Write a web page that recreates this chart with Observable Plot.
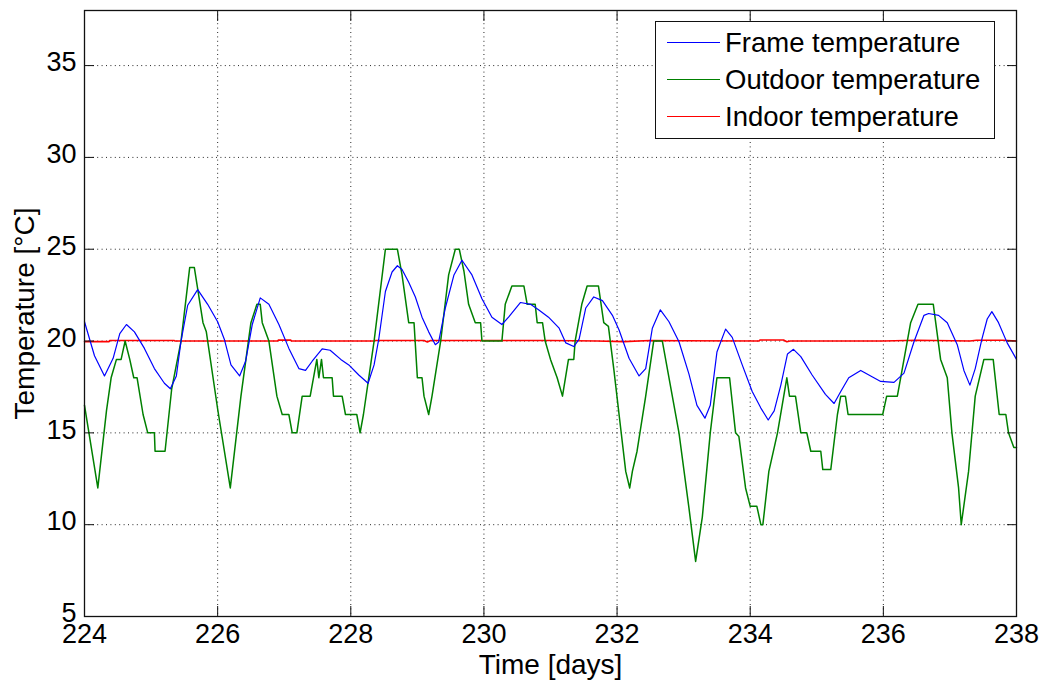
<!DOCTYPE html>
<html>
<head>
<meta charset="utf-8">
<script src="https://cdn.jsdelivr.net/npm/d3@7"></script>
<script src="https://cdn.jsdelivr.net/npm/@observablehq/plot@0.6"></script>
<style>
  body { margin: 0; background: white; }
  #wrap { position: relative; width: 1043px; height: 686px; font-family: "Liberation Sans", Arial, sans-serif; }
  #legend { position: absolute; left: 655px; top: 21px; width: 338px; height: 114px; border: 1px solid #111; background: white; padding-top: 2px; box-sizing: content-box; }
  .row { display: flex; align-items: center; height: 37px; }
  .swatch { width: 53px; margin-left: 11px; margin-right: 5px; height: 0; border-top: 1.5px solid; }
  .lab { font-size: 27.5px; color: #000; white-space: nowrap; }
</style>
</head>
<body>
<div id="wrap"></div>
<script>
// ---- data ----
const xTicks = [224, 226, 228, 230, 232, 234, 236, 238];
const yTicks = [5, 10, 15, 20, 25, 30, 35];
const seriesNames = ["Frame temperature", "Outdoor temperature", "Indoor temperature"];
const seriesColors = ["#0000ff", "#008000", "#ff0000"];

const frameDay = [224.00,224.15,224.30,224.43,224.53,224.63,224.75,224.90,225.05,225.20,225.29,225.38,225.45,225.55,225.70,225.85,226.00,226.10,226.20,226.33,226.42,226.52,226.64,226.77,226.92,227.07,227.22,227.32,227.42,227.57,227.69,227.85,227.97,228.12,228.26,228.35,228.42,228.52,228.62,228.70,228.77,228.87,228.97,229.07,229.17,229.27,229.32,229.42,229.55,229.67,229.82,229.97,230.12,230.27,230.37,230.55,230.70,230.82,230.97,231.13,231.23,231.35,231.43,231.53,231.65,231.78,231.93,232.03,232.18,232.33,232.43,232.53,232.65,232.78,232.93,233.08,233.20,233.32,233.40,233.50,233.63,233.73,233.88,234.03,234.16,234.27,234.36,234.46,234.56,234.65,234.76,234.93,235.13,235.26,235.36,235.48,235.66,235.81,235.96,236.16,236.31,236.46,236.61,236.68,236.83,236.96,237.11,237.21,237.30,237.38,237.48,237.56,237.63,237.73,237.86,238.00];
const frameTemp = [21.05,19.2,18.1,19.06,20.4,20.9,20.5,19.6,18.5,17.7,17.4,18.1,20.0,21.95,22.8,22.0,21.05,20.1,18.7,18.1,18.9,20.9,22.35,22.0,20.9,19.6,18.5,18.4,18.9,19.57,19.5,19.0,18.7,18.15,17.7,18.7,20.1,22.7,23.76,24.1,23.9,23.2,22.4,21.3,20.5,19.8,19.95,21.8,23.6,24.4,23.6,22.3,21.3,20.9,21.3,22.1,22.0,21.7,21.3,20.7,19.9,19.7,20.1,21.8,22.4,22.2,21.4,20.6,19.06,18.1,18.5,20.7,21.7,21.05,19.96,18.2,16.5,15.8,16.5,19.4,20.65,20.2,18.7,17.25,16.35,15.7,16.2,17.6,19.3,19.55,19.15,18.15,17.1,16.6,17.25,18.0,18.4,18.1,17.8,17.75,18.25,19.96,21.4,21.5,21.4,21.0,19.8,18.4,17.6,18.5,20.1,21.2,21.6,21.0,19.9,19.0];

const outdoorDay = [224.00,224.20,224.33,224.40,224.48,224.55,224.61,224.68,224.74,224.79,224.88,224.95,225.05,225.06,225.21,225.31,225.45,225.58,225.65,225.78,225.83,226.00,226.19,226.35,226.50,226.59,226.64,226.67,226.77,226.89,226.97,227.07,227.12,227.19,227.27,227.39,227.49,227.52,227.56,227.59,227.72,227.74,227.87,227.92,228.09,228.14,228.19,228.35,228.52,228.70,228.77,228.87,228.95,229.00,229.07,229.10,229.17,229.22,229.35,229.47,229.57,229.63,229.70,229.77,229.87,229.95,229.97,230.27,230.32,230.42,230.60,230.65,230.77,230.80,230.88,230.92,231.00,231.10,231.18,231.27,231.35,231.37,231.47,231.55,231.72,231.80,231.87,231.95,232.03,232.13,232.19,232.23,232.30,232.43,232.55,232.68,232.78,232.93,233.08,233.18,233.28,233.40,233.50,233.69,233.78,233.83,233.93,234.00,234.10,234.16,234.19,234.28,234.41,234.55,234.59,234.68,234.76,234.85,234.91,235.06,235.09,235.21,235.31,235.36,235.43,235.47,235.99,236.05,236.21,236.26,236.31,236.41,236.52,236.75,236.86,236.96,237.03,237.13,237.17,237.28,237.38,237.51,237.65,237.74,237.84,237.88,237.96,238.00];
const outdoorTemp = [16.5,12,16.2,18,19,19,20,19,18,18,16,15,15,14,14,17.4,20,24,24,21,20.5,16.3,12,17,21,22,22,21,20,17,16,16,15,15,17,17,19,18,19,18,18,17,17,16,16,15,16,20,25,25,23.6,21,21,18,18,17,16,17,20,23.6,25,25,23.8,22,21,21,20,20,22,23,23,22,22,21,21,20,19,18,17,19,19,20,22,23,23,21,20.8,18.5,16,12.9,12,12.9,14,17,20,20,18,15,10.9,8,10.4,15,18,18,15,14.8,12,11,11,10,10,12.9,15,18,17,17,15,15,14,14,13,13,16,17,17,16,16,17,17,18,19,21,22,22,19,18,15,12,10,12.9,17,19,19,16,16,15,14.2,14.2];

const indoorDay = [224.00,224.37,224.38,225.35,225.36,226.90,226.91,227.10,227.11,228.35,228.36,229.10,229.15,229.20,231.00,231.70,232.10,232.50,233.00,234.13,234.15,234.50,234.55,234.60,236.00,236.50,237.30,237.40,237.80,238.00];
const indoorTemp = [19.97,19.97,20.03,20.03,20.0,20.0,20.05,20.05,20.0,20.0,20.03,20.03,19.95,20.03,20.03,20.0,19.97,20.03,20.02,20.0,20.06,20.06,19.96,20.0,20.0,20.04,20.0,20.04,20.04,20.0];

// ---- build tables ----
const frame = frameDay.map((d, i) => ({day: d, temp: frameTemp[i]}));
const outdoor = outdoorDay.map((d, i) => ({day: d, temp: outdoorTemp[i]}));
const indoor = indoorDay.map((d, i) => ({day: d, temp: indoorTemp[i]}));

const gridStyle = {stroke: "#000", strokeOpacity: 0.85, strokeDasharray: "1,3.4", strokeWidth: 1};

const chart = Plot.plot({
  width: 1043,
  height: 686,
  marginLeft: 84,
  marginRight: 27,
  marginTop: 10,
  marginBottom: 70,
  style: {fontFamily: "'Liberation Sans', Arial, sans-serif", fontSize: "27px", background: "white", color: "black", overflow: "visible"},
  x: {domain: [224, 238]},
  y: {domain: [5, 38]},
  marks: [
    Plot.gridX(xTicks, gridStyle),
    Plot.gridY(yTicks, gridStyle),
    Plot.line(indoor, {x: "day", y: "temp", stroke: seriesColors[2], strokeWidth: 1.6}),
    Plot.line(outdoor, {x: "day", y: "temp", stroke: seriesColors[1], strokeWidth: 1.5}),
    Plot.line(frame, {x: "day", y: "temp", stroke: seriesColors[0], strokeWidth: 1.2}),
    Plot.frame({stroke: "#111", strokeWidth: 1.3}),
    // tick labels
    Plot.axisX(xTicks, {anchor: "bottom", tickSize: 0, tickPadding: 7, label: null, fontSize: 27}),
    Plot.axisY(yTicks, {anchor: "left", tickSize: 0, tickPadding: 8, label: null, fontSize: 27, dy: -3}),
    // inward ticks on all four sides
    Plot.axisX(xTicks, {anchor: "bottom", tickSize: 10, dy: -10, fill: "none", label: null, stroke: "#111"}),
    Plot.axisX(xTicks, {anchor: "top", tickSize: 10, dy: 10, fill: "none", label: null, stroke: "#111"}),
    Plot.axisY(yTicks, {anchor: "left", tickSize: 10, dx: 10, fill: "none", label: null, stroke: "#111"}),
    Plot.axisY(yTicks, {anchor: "right", tickSize: 10, dx: -10, fill: "none", label: null, stroke: "#111"}),
    // axis titles
    Plot.text(["Time [days]"], {frameAnchor: "bottom", dy: 57, text: d => d, fontSize: 28, fill: "black", textAnchor: "middle"}),
    Plot.text(["Temperature [°C]"], {frameAnchor: "left", dx: -59, rotate: -90, text: d => d, fontSize: 28, fill: "black", textAnchor: "middle"})
  ]
});

const wrap = document.getElementById("wrap");
wrap.appendChild(chart);

// legend (inside the plot area, top right)
const legend = document.createElement("div");
legend.id = "legend";
seriesNames.forEach((name, i) => {
  const row = document.createElement("div");
  row.className = "row";
  const sw = document.createElement("div");
  sw.className = "swatch";
  sw.style.borderTopColor = seriesColors[i];
  const lab = document.createElement("span");
  lab.className = "lab";
  lab.textContent = name;
  row.appendChild(sw);
  row.appendChild(lab);
  legend.appendChild(row);
});
wrap.appendChild(legend);
</script>
</body>
</html>
